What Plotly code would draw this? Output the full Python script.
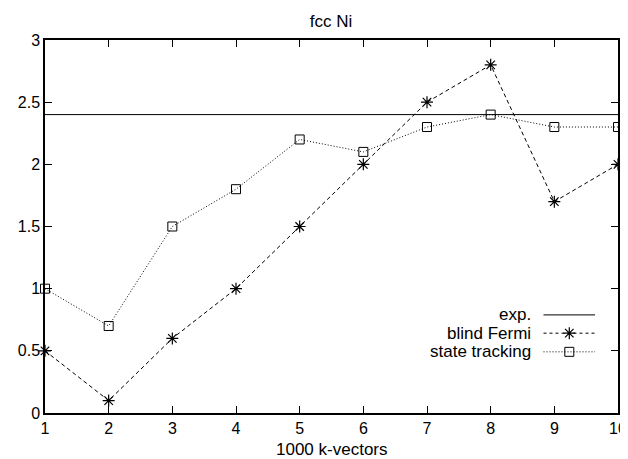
import plotly.graph_objects as go

kvec = [1, 2, 3, 4, 5, 6, 7, 8, 9, 10]
blind_fermi = [0.5, 0.1, 0.6, 1.0, 1.5, 2.0, 2.5, 2.8, 1.7, 2.0]
state_tracking = [1.0, 0.7, 1.5, 1.8, 2.2, 2.1, 2.3, 2.4, 2.3, 2.3]
exp_value = 2.4
legend_names = ["exp.", "blind Fermi", "state tracking"]
x_title = "1000 k-vectors"

FONT = "Liberation Sans, Arial, Helvetica, sans-serif"

fig = go.Figure()

fig.add_trace(go.Scatter(
    x=[kvec[0], kvec[-1]], y=[exp_value, exp_value], mode="lines",
    line=dict(color="black", width=1), name=legend_names[0], showlegend=False))
fig.add_trace(go.Scatter(
    x=kvec, y=blind_fermi, mode="lines+markers", cliponaxis=False,
    line=dict(color="black", width=1, dash="4px,3px"),
    marker=dict(symbol="asterisk-open", size=10, color="black", line=dict(width=1.2, color="black")),
    name=legend_names[1], showlegend=False))
fig.add_trace(go.Scatter(
    x=kvec, y=state_tracking, mode="lines+markers", cliponaxis=False,
    line=dict(color="black", width=1, dash="1px,2px"),
    marker=dict(symbol="square-open", size=9, color="black", line=dict(width=1, color="black")),
    name=legend_names[2], showlegend=False))

# custom legend (text right-aligned, sample to the right) on an overlay axis
leg_y = [0.263, 0.214, 0.164]
styles = [
    dict(line=dict(color="black", width=1), mode="lines"),
    dict(line=dict(color="black", width=1, dash="3px,3px"), mode="lines"),
    dict(line=dict(color="black", width=1, dash="1px,2px"), mode="lines"),
]
markers = [None, dict(symbol="asterisk-open", size=10, color="black", line=dict(width=1.2, color="black")),
           dict(symbol="square-open", size=9, color="black", line=dict(width=1, color="black"))]
x0, x1 = 0.870, 0.960
for name, yy, st, mk in zip(legend_names, leg_y, styles, markers):
    fig.add_trace(go.Scatter(x=[x0, x1], y=[yy, yy], xaxis="x2", yaxis="y2",
                             hoverinfo="skip", showlegend=False, **st))
    if mk is not None:
        fig.add_trace(go.Scatter(x=[(x0 + x1) / 2], y=[yy], xaxis="x2", yaxis="y2", mode="markers",
                                 marker=mk, hoverinfo="skip", showlegend=False))
    fig.add_annotation(x=0.852, y=yy, xref="x2", yref="y2", text=name, showarrow=False,
                       xanchor="right", yanchor="middle", font=dict(family=FONT, size=17, color="black"))

# x-axis title
fig.add_annotation(x=0.5, y=-0.097, xref="paper", yref="paper", text=x_title, showarrow=False,
                   xanchor="center", yanchor="middle", font=dict(family=FONT, size=17, color="black"))

axis_common = dict(showgrid=False, zeroline=False, showline=True, linecolor="black", linewidth=1.5,
                   mirror="ticks", ticks="inside", ticklen=7, tickwidth=1.2, tickcolor="black",
                   automargin=False,
                   tickfont=dict(family=FONT, size=16, color="black"))

# page body has an 8px margin, so the figure is sized to the remaining window
fig.update_layout(
    width=620, height=451,
    margin=dict(l=37, r=10, t=32, b=46),
    paper_bgcolor="white", plot_bgcolor="white",
    title=dict(text="fcc Ni", x=0.521, xanchor="center", y=0.971, yanchor="middle",
               font=dict(family=FONT, size=17, color="black")),
    xaxis=dict(range=[1, 10], tickvals=kvec, **axis_common),
    yaxis=dict(range=[0, 3], tickvals=[0, 0.5, 1, 1.5, 2, 2.5, 3],
               ticktext=["0", "0.5", "1", "1.5", "2", "2.5", "3"], **axis_common),
    xaxis2=dict(range=[0, 1], overlaying="x", visible=False),
    yaxis2=dict(range=[0, 1], overlaying="y", visible=False),
    showlegend=False,
)

fig.write_html("out.html")
